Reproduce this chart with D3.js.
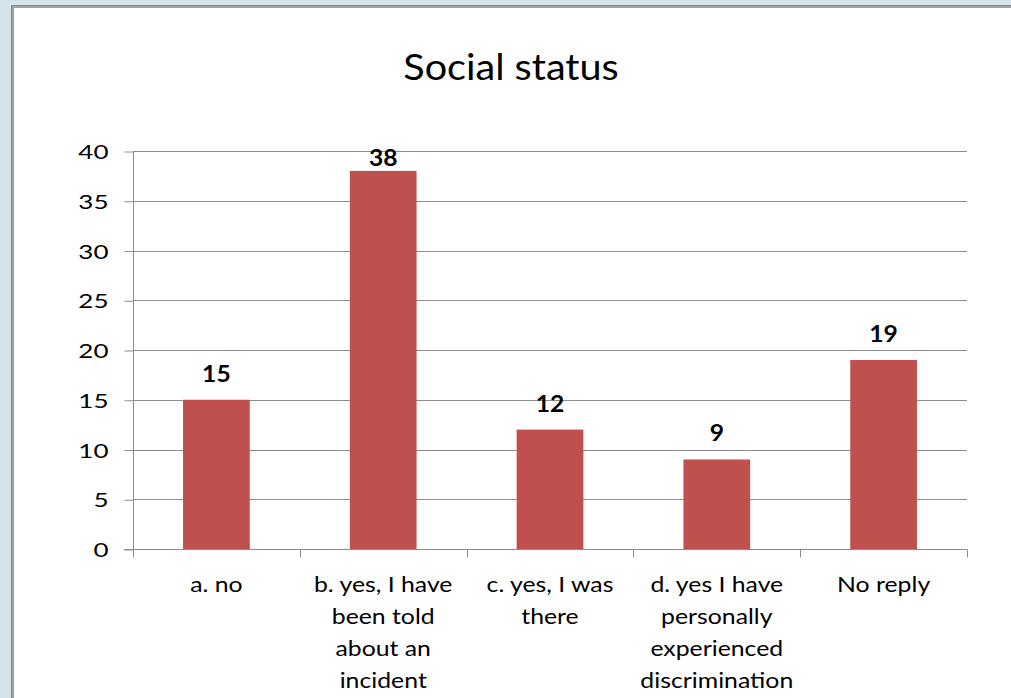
<!DOCTYPE html>
<html>
<head>
<meta charset="utf-8">
<script src="https://cdn.jsdelivr.net/npm/d3@7"></script>
<style>
  html, body { margin: 0; padding: 0; background: #d5e3ea; }
  svg { display: block; }
  text { font-family: Lato, "Open Sans", sans-serif; fill: #000; }
</style>
</head>
<body>
<svg id="chart" width="1011" height="698"></svg>
<script>
const categories = ["a. no", "b. yes, I have been told about an incident", "c. yes, I was there", "d. yes I have personally experienced discrimination", "No reply"];
const categoryLines = [
  ["a. no"],
  ["b. yes, I have", "been told", "about an", "incident"],
  ["c. yes, I was", "there"],
  ["d. yes I have", "personally", "experienced", "discrimination"],
  ["No reply"]
];
const values = [15, 38, 12, 9, 19];
const yTicks = [0, 5, 10, 15, 20, 25, 30, 35, 40];
const title = "Social status";

const svg = d3.select("#chart");
const W = 1011, H = 698;

// chart area panel with gray border on left/top
svg.append("rect").attr("x", 0).attr("y", 0).attr("width", W).attr("height", H).attr("fill", "#d5e3ea");
svg.append("rect").attr("x", 11).attr("y", 5).attr("width", W).attr("height", H).attr("fill", "#8a8a8a");
svg.append("rect").attr("x", 12).attr("y", 6).attr("width", W).attr("height", H).attr("fill", "#a0a0a0");
svg.append("rect").attr("x", 14).attr("y", 8).attr("width", W).attr("height", H).attr("fill", "#ffffff");

const plot = { left: 133, right: 967, top: 151, bottom: 549 };

const x = d3.scaleBand().domain(categories).range([plot.left, plot.right]).paddingInner(0.6).paddingOuter(0.3);
const y = d3.scaleLinear().domain([0, 40]).range([plot.bottom, plot.top]);

// title
svg.append("text").attr("transform", "translate(511,80) scale(1.07,1)").attr("text-anchor", "middle")
  .style("font-size", "37px").text(title);

// gridlines
svg.append("g").selectAll("line").data(yTicks.filter(d => d > 0)).join("line")
  .attr("x1", plot.left).attr("x2", plot.right)
  .attr("y1", d => Math.round(y(d)) + 0.5).attr("y2", d => Math.round(y(d)) + 0.5)
  .attr("stroke", "#8c8c8c").attr("stroke-width", 1);

// y axis
const tickSX = 1.3;
const yAxis = d3.axisLeft(y).tickValues(yTicks).tickSize(9).tickPadding(16).tickFormat(d3.format("d"));
const gy = svg.append("g").attr("transform", `translate(${plot.left + 0.5},0.5)`).call(yAxis);
gy.select(".domain").attr("stroke", "#8c8c8c").attr("d", `M0,${plot.top}V${plot.bottom}`);
gy.selectAll(".tick line").attr("stroke", "#8c8c8c");
gy.selectAll(".tick text")
  .style("font-size", "20px").style("font-family", "Lato, sans-serif").attr("fill", "#000")
  .attr("dy", "0.36em").attr("x", -25 / tickSX).attr("transform", `scale(${tickSX},1)`);

// x axis
const gx = svg.append("g").attr("transform", `translate(0,${Math.round(plot.bottom) + 0.5})`);
gx.append("line").attr("x1", plot.left - 9).attr("x2", plot.right).attr("stroke", "#8c8c8c");
const step = x.step();
const boundaries = d3.range(categories.length + 1).map(i => plot.left + i * step);
gx.selectAll("line.tk").data(boundaries).join("line").attr("class", "tk")
  .attr("x1", d => Math.round(d) + 0.5).attr("x2", d => Math.round(d) + 0.5)
  .attr("y1", 0).attr("y2", 8).attr("stroke", "#8c8c8c");

// x labels
const lab = svg.append("g").selectAll("text").data(categories).join("text")
  .attr("text-anchor", "middle").style("font-size", "20.5px")
  .attr("transform", d => `translate(${x(d) + x.bandwidth() / 2},592) scale(1.21,1)`);
lab.each(function(d, i) {
  d3.select(this).selectAll("tspan").data(categoryLines[i]).join("tspan")
    .attr("x", 0).attr("y", (l, j) => j * 32).text(l => l);
});

// bars
svg.append("g").selectAll("rect").data(values).join("rect")
  .attr("x", (d, i) => x(categories[i]))
  .attr("y", d => y(d))
  .attr("width", x.bandwidth())
  .attr("height", d => y(0) - y(d))
  .attr("fill", "#c0504d");

// data labels
svg.append("g").selectAll("text").data(values).join("text")
  .attr("text-anchor", "middle").style("font-size", "22px").style("font-weight", "bold")
  .attr("transform", (d, i) => `translate(${x(categories[i]) + x.bandwidth() / 2},${Math.max(y(d) - 18, y(40) + 15)}) scale(1.12,1)`)
  .text(d => d);
</script>
</body>
</html>
